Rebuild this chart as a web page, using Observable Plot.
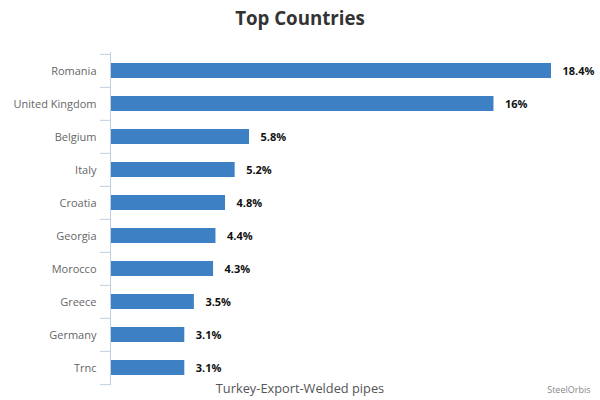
<!DOCTYPE html>
<html>
<head>
<meta charset="utf-8">
<script src="https://cdn.jsdelivr.net/npm/d3@7"></script>
<script src="https://cdn.jsdelivr.net/npm/@observablehq/plot@0.6"></script>
<style>
  html, body { margin: 0; padding: 0; background: #fff; }
  #title { height: 40px; line-height: 36px; text-align: center; font-family: "Open Sans", sans-serif; font-weight: bold; font-size: 18.7px; color: #333; }
  svg { display: block; }
</style>
</head>
<body>
<div id="title">Top Countries</div>
<div id="chart"></div>
<script>
const countries = ["Romania", "United Kingdom", "Belgium", "Italy", "Croatia", "Georgia", "Morocco", "Greece", "Germany", "Trnc"];
const values = [18.4, 16, 5.8, 5.2, 4.8, 4.4, 4.3, 3.5, 3.1, 3.1];
const xTitle = "Turkey-Export-Welded pipes";
const credit = "SteelOrbis";

const data = countries.map((c, i) => ({country: c, value: values[i]}));

const W = 600, H = 360, mt = 12, mb = 15, ml = 110, mr = 49;
const step = (H - mt - mb) / countries.length;
const axisColor = "#C0D0E0";

const chart = Plot.plot({
  width: W,
  height: H,
  marginTop: mt,
  marginBottom: mb,
  marginLeft: ml,
  marginRight: mr,
  style: {fontFamily: "'Open Sans', sans-serif", fontSize: "11px", color: "#666", background: "#fff"},
  x: {domain: [0, 18.4], axis: null},
  y: {domain: countries, paddingInner: 0.55, paddingOuter: 0.275, label: null},
  marks: [
    Plot.barX(data, {x: "value", y: "country", fill: "#3d80c3"}),
    Plot.axisY({tickSize: 10, tickFormat: () => "", stroke: axisColor, dy: -step / 2, label: null}),
    Plot.axisY({ticks: [countries[countries.length - 1]], tickSize: 10, tickFormat: () => "", stroke: axisColor, dy: step / 2, label: null}),
    Plot.axisY({tickSize: 0, tickPadding: 14, fill: "#666", fontSize: 11, label: null}),
    Plot.ruleX([0], {stroke: axisColor}),
    Plot.text(data, {x: "value", y: "country", text: d => d.value + "%", dx: 11, textAnchor: "start", fontWeight: "bold", fill: "#111", fontSize: 11}),
    Plot.text([xTitle], {frameAnchor: "bottom", dx: -31, dy: 7, fill: "#555", fontSize: 12.8}),
    Plot.text([credit], {frameAnchor: "bottom-right", dx: 39, dy: 7, textAnchor: "end", fill: "#888", fontSize: 9})
  ]
});
document.getElementById("chart").appendChild(chart);
</script>
</body>
</html>
